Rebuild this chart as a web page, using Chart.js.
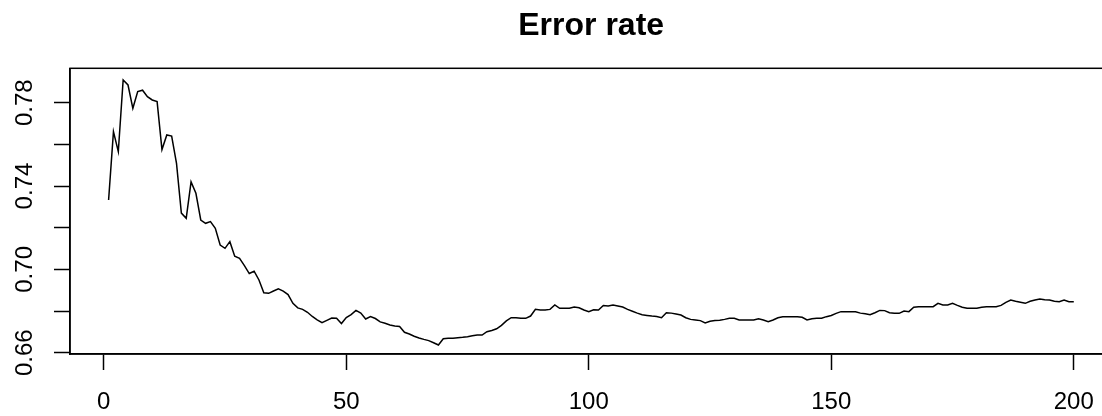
<!DOCTYPE html>
<html>
<head>
<meta charset="utf-8">
<script src="https://cdn.jsdelivr.net/npm/chart.js@4.4.1/dist/chart.umd.min.js"></script>
<style>
  html, body { margin: 0; padding: 0; background: #ffffff; overflow: hidden; width: 1102px; height: 416px; }
  #wrap { position: absolute; left: 0; top: 0; width: 1120px; height: 416px; }
</style>
</head>
<body>
<div id="wrap"><canvas id="c" width="1120" height="416"></canvas></div>
<script>
// ---- data ----
const chartTitle = "Error rate";
const errorRate = [
  0.7333, 0.7661, 0.7565, 0.7909, 0.7885, 0.7773, 0.7853, 0.7860, 0.7829, 0.7813,
  0.7805, 0.7575, 0.7645, 0.7640, 0.7509, 0.7270, 0.7245, 0.7420, 0.7365, 0.7237,
  0.7221, 0.7229, 0.7197, 0.7117, 0.7101, 0.7133, 0.7063, 0.7053, 0.7018, 0.6980,
  0.6991, 0.6949, 0.6888, 0.6885, 0.6896, 0.6907, 0.6896, 0.6879, 0.6837, 0.6815,
  0.6808, 0.6794, 0.6774, 0.6758, 0.6744, 0.6755, 0.6766, 0.6765, 0.6740, 0.6769,
  0.6783, 0.6803, 0.6790, 0.6762, 0.6773, 0.6764, 0.6748, 0.6741, 0.6733, 0.6728,
  0.6726, 0.6698, 0.6690, 0.6679, 0.6671, 0.6664, 0.6658, 0.6648, 0.6637, 0.6667,
  0.6669, 0.6669, 0.6672, 0.6674, 0.6677, 0.6681, 0.6685, 0.6685, 0.6701, 0.6707,
  0.6715, 0.6731, 0.6753, 0.6768, 0.6768, 0.6765, 0.6765, 0.6776, 0.6808, 0.6805,
  0.6805, 0.6808, 0.6829, 0.6813, 0.6813, 0.6813, 0.6819, 0.6816, 0.6805, 0.6797,
  0.6806, 0.6805, 0.6827, 0.6824, 0.6829, 0.6824, 0.6819, 0.6808, 0.6799, 0.6790,
  0.6782, 0.6779, 0.6776, 0.6774, 0.6768, 0.6792, 0.6790, 0.6786, 0.6781, 0.6768,
  0.6760, 0.6757, 0.6754, 0.6743, 0.6751, 0.6755, 0.6756, 0.6760, 0.6765, 0.6765,
  0.6757, 0.6757, 0.6757, 0.6757, 0.6763, 0.6757, 0.6749, 0.6757, 0.6768, 0.6773,
  0.6773, 0.6773, 0.6773, 0.6770, 0.6757, 0.6763, 0.6765, 0.6765, 0.6773, 0.6779,
  0.6789, 0.6797, 0.6797, 0.6797, 0.6797, 0.6790, 0.6787, 0.6782, 0.6792, 0.6803,
  0.6802, 0.6792, 0.6789, 0.6789, 0.6800, 0.6797, 0.6818, 0.6821, 0.6821, 0.6821,
  0.6821, 0.6837, 0.6829, 0.6829, 0.6837, 0.6827, 0.6818, 0.6813, 0.6813, 0.6813,
  0.6818, 0.6821, 0.6821, 0.6821, 0.6827, 0.6842, 0.6853, 0.6847, 0.6842, 0.6837,
  0.6847, 0.6853, 0.6858, 0.6854, 0.6853, 0.6847, 0.6845, 0.6853, 0.6845, 0.6845
];
// x position of each value: its 1-based iteration number
const iterations = errorRate.map((_, i) => i + 1);

const xTickValues = [0, 50, 100, 150, 200];
const xTickLabels = ["0", "50", "100", "150", "200"];
const yTickValues = [0.66, 0.68, 0.70, 0.72, 0.74, 0.76, 0.78];
const yTickLabels = ["0.66", "", "0.70", "", "0.74", "", "0.78"];

const xRange = [-6.96, 207.96];
const yRange = [0.65938, 0.79651];

// ---- chart ----
const FONT = "'Liberation Sans', Arial, sans-serif";

const framePlugin = {
  id: 'frame',
  afterDatasetsDraw(chart) {
    const a = chart.chartArea;
    const ctx = chart.ctx;
    ctx.save();
    ctx.strokeStyle = '#000000';
    ctx.lineWidth = 1.5;
    ctx.strokeRect(a.left, a.top, a.right - a.left, a.bottom - a.top);
    ctx.restore();
  }
};

new Chart(document.getElementById('c'), {
  type: 'line',
  data: {
    datasets: [{
      label: chartTitle,
      data: iterations.map((x, i) => ({ x: x, y: errorRate[i] })),
      borderColor: '#000000',
      borderWidth: 1.5,
      pointRadius: 0,
      tension: 0,
      fill: false
    }]
  },
  options: {
    responsive: false,
    animation: false,
    devicePixelRatio: 1,
    layout: { padding: { left: 0, right: 7.6, top: 0, bottom: 0 } },
    plugins: {
      legend: { display: false },
      tooltip: { enabled: false },
      title: {
        display: true,
        text: chartTitle,
        fullSize: false,
        color: '#000000',
        font: { family: FONT, size: 32, weight: 'bold', lineHeight: 1.2 },
        padding: { top: 6.8, bottom: 23.1 }
      }
    },
    scales: {
      x: {
        type: 'linear',
        position: 'bottom',
        min: xRange[0],
        max: xRange[1],
        afterBuildTicks: s => { s.ticks = xTickValues.map(v => ({ value: v })); },
        afterFit: s => { s.height = 62; },
        border: { display: true, color: '#000000', width: 1.5 },
        grid: { display: true, drawOnChartArea: false, drawTicks: true, tickLength: 16, tickColor: '#000000', tickWidth: 1.5, color: '#000000' },
        ticks: {
          autoSkip: false,
          maxRotation: 0,
          minRotation: 0,
          padding: 18,
          color: '#000000',
          font: { family: FONT, size: 24, lineHeight: 1.2 },
          callback: (v, i) => xTickLabels[i]
        }
      },
      y: {
        type: 'linear',
        position: 'left',
        min: yRange[0],
        max: yRange[1],
        afterBuildTicks: s => { s.ticks = yTickValues.map(v => ({ value: v })); },
        afterFit: s => { s.width = 70; },
        border: { display: true, color: '#000000', width: 1.5 },
        grid: { display: true, drawOnChartArea: false, drawTicks: true, tickLength: 16, tickColor: '#000000', tickWidth: 1.5, color: '#000000' },
        ticks: {
          autoSkip: false,
          minRotation: 90,
          maxRotation: 90,
          crossAlign: 'center',
          padding: 5.6,
          color: '#000000',
          font: { family: FONT, size: 24, lineHeight: 1.2 },
          callback: (v, i) => yTickLabels[i]
        }
      }
    }
  },
  plugins: [framePlugin]
});
</script>
</body>
</html>
